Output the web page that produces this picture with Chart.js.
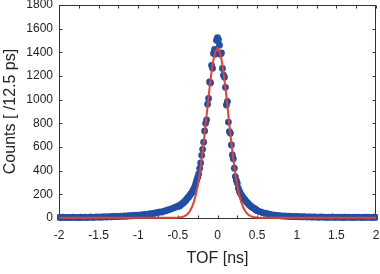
<!DOCTYPE html>
<html>
<head>
<meta charset="utf-8">
<script src="https://cdn.jsdelivr.net/npm/chart.js@4/dist/chart.umd.min.js"></script>
<style>
html,body{margin:0;padding:0;background:#fff;}
canvas{display:block;}
</style>
</head>
<body>
<canvas id="c" width="380" height="274"></canvas>
<script>
// ---- Data ----
// Histogram bins: 12.5 ps bins near the peak, every second bin in the tails
const leftTailStart = -2.0, leftTailStep = 0.025;
const leftTailCounts = [5,3,7,4,6,2,5,8,4,6,3,7,5,8,4,6,9,5,7,10,6,9,7,11,8,12,9,13,11,14,12,16,13,17,15,19,17,21,19,24,22,27,25,30,28,33,36,34,40,43,47,52,50,58,62,68,73,80,86,93];
const peakStart = -0.5, peakStep = 0.0125;
const peakCounts = [98,104,101,112,118,125,131,142,148,160,171,178,190,204,212,232,245,262,290,318,345,372,420,465,530,580,640,735,800,830,962,1010,1150,1142,1290,1265,1390,1424,1385,1502,1525,1508,1460,1384,1395,1264,1207,1190,1104,955,985,811,730,716,617,533,500,421,350,318,295,253,228,210,196,182,170,160,150,139,130,121,112,104,97,90,86,80,76,68,62];
const rightTailStart = 0.525, rightTailStep = 0.025;
const rightTailCounts = [55,50,44,41,36,33,29,25,24,21,20,18,16,17,14,15,12,14,11,13,10,12,9,11,8,10,9,7,10,8,6,9,7,8,5,8,6,9,5,7,6,8,4,7,5,8,6,4,7,5,8,6,4,7,5,8,6,4,7,5];

// Gaussian fit curve (red)
const fitX = [-2,-1,-0.6,-0.575,-0.55,-0.525,-0.5,-0.475,-0.45,-0.425,-0.4,-0.375,-0.35,-0.325,-0.3,-0.275,-0.25,-0.225,-0.2,-0.175,-0.15,-0.125,-0.1,-0.075,-0.05,-0.025,0,0.025,0.05,0.075,0.1,0.125,0.15,0.175,0.2,0.225,0.25,0.275,0.3,0.325,0.35,0.375,0.4,0.425,0.45,0.475,0.5,0.525,0.55,0.575,0.6,1,2];
const fitY = [2,2,2,2,2.5,3,4,5.5,9,14,22,36,57,88,132,193,273,374,495,635,788,946,1099,1235,1342,1410,1434,1410,1342,1235,1099,946,788,635,495,374,273,193,132,88,57,36,22,14,9,5.5,4,3,2.5,2,2,2,2];

// Axis ticks
const xTicks = [-2,-1.5,-1,-0.5,0,0.5,1,1.5,2];
const xTickLabels = ['-2','-1.5','-1','-0.5','0','0.5','1','1.5','2'];
const xMinorTicks = [-2,-1.75,-1.5,-1.25,-1,-0.75,-0.5,-0.25,0,0.25,0.5,0.75,1,1.25,1.5,1.75,2];
const yTicks = [0,200,400,600,800,1000,1200,1400,1600,1800];
const yTickLabels = ['0','200','400','600','800','1000','1200','1400','1600','1800'];

// ---- Build points ----
const measured = [];
leftTailCounts.forEach((c,i)=>measured.push({x: leftTailStart + i*leftTailStep, y: c}));
peakCounts.forEach((c,i)=>measured.push({x: peakStart + i*peakStep, y: c}));
rightTailCounts.forEach((c,i)=>measured.push({x: rightTailStart + i*rightTailStep, y: c}));
const fit = fitX.map((x,i)=>({x, y: fitY[i]}));

const FONT = "'Liberation Sans', Arial, Helvetica, sans-serif";
const AXIS = '#333';

const frame = {
  id: 'frame',
  beforeDatasetsDraw(chart) {
    const {ctx, chartArea: a, scales: {x, y}} = chart;
    const L = Math.round(a.left) + 0.5, R = Math.round(a.right) - 0.5;
    const T = Math.round(a.top) + 0.5, B = Math.round(a.bottom) + 0.5;
    ctx.save();
    ctx.strokeStyle = AXIS;
    ctx.lineWidth = 1;
    ctx.beginPath();
    ctx.rect(L, T, R - L, B - T);
    const tl = 3;
    xMinorTicks.forEach(v => {
      const px = Math.round(x.getPixelForValue(v)) + 0.5;
      ctx.moveTo(px, B); ctx.lineTo(px, B - tl);
      ctx.moveTo(px, T); ctx.lineTo(px, T + tl);
    });
    yTicks.forEach(v => {
      const py = Math.round(y.getPixelForValue(v)) + 0.5;
      ctx.moveTo(L, py); ctx.lineTo(L + tl, py);
      ctx.moveTo(R, py); ctx.lineTo(R - tl, py);
    });
    ctx.stroke();
    ctx.restore();
  }
};

function noPad(s) {
  s.paddingLeft = 0; s.paddingRight = 0; s.paddingTop = 0; s.paddingBottom = 0;
}

new Chart(document.getElementById('c'), {
  type: 'scatter',
  data: {
    datasets: [
      {
        label: 'fit',
        data: fit,
        showLine: true,
        borderColor: '#e8402c',
        borderWidth: 2,
        pointRadius: 0,
        fill: false,
        order: 0,
        clip: {left: 2, right: 2, top: 0, bottom: 2}
      },
      {
        label: 'data',
        data: measured,
        backgroundColor: '#1f4fa6',
        borderColor: '#1f4fa6',
        borderWidth: 0,
        pointRadius: 3.4,
        order: 1,
        clip: {left: 2, right: 2, top: 0, bottom: 3}
      }
    ]
  },
  options: {
    responsive: false,
    animation: false,
    devicePixelRatio: 1,
    layout: {padding: {top: 5, right: 4, left: 0, bottom: 0}},
    plugins: {legend: {display: false}, tooltip: {enabled: false}},
    scales: {
      x: {
        type: 'linear',
        min: -2, max: 2,
        grid: {display: false, drawTicks: false},
        border: {display: false},
        afterBuildTicks: s => { s.ticks = xTicks.map(v => ({value: v})); },
        ticks: {
          color: '#222',
          font: {family: FONT, size: 12},
          padding: 10,
          maxRotation: 0,
          autoSkip: false,
          callback: (v) => xTickLabels[xTicks.indexOf(v)]
        },
        title: {display: true, text: 'TOF [ns]', color: '#222', font: {family: FONT, size: 16}, padding: {top: 0, bottom: 6}},
        afterFit: s => { s.height = 56; noPad(s); }
      },
      y: {
        type: 'linear',
        min: 0, max: 1800,
        grid: {display: false, drawTicks: false},
        border: {display: false},
        afterBuildTicks: s => { s.ticks = yTicks.map(v => ({value: v})); },
        ticks: {
          color: '#222',
          font: {family: FONT, size: 12},
          padding: 6,
          autoSkip: false,
          callback: (v) => yTickLabels[yTicks.indexOf(v)]
        },
        title: {display: true, text: 'Counts [ /12.5 ps]', color: '#222', font: {family: FONT, size: 16}, padding: {top: 1, bottom: 0}},
        afterFit: s => { s.width = 59; noPad(s); }
      }
    }
  },
  plugins: [frame]
});
</script>
</body>
</html>
